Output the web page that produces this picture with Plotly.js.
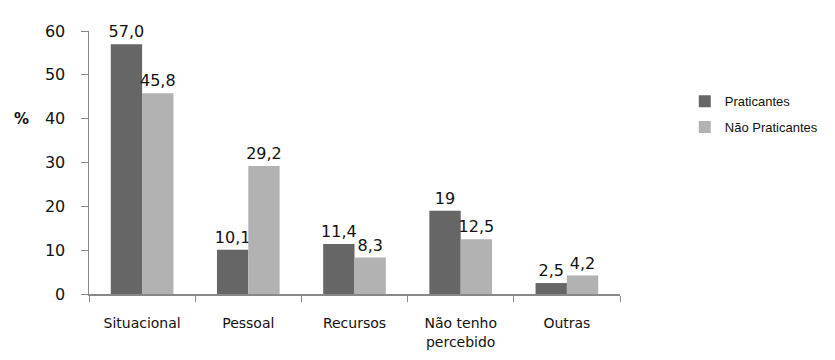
<!DOCTYPE html>
<html>
<head>
<meta charset="utf-8">
<script src="https://cdn.plot.ly/plotly-3.0.1.min.js"></script>
<style>html,body{margin:0;padding:0;background:#fff;}#chart{width:835px;height:360px;}</style>
</head>
<body>
<div id="chart"></div>
<script>
var categories = ["Situacional", "Pessoal", "Recursos", "Não tenho<br>percebido", "Outras"];
var praticantes = [57.0, 10.1, 11.4, 19, 2.5];
var naoPraticantes = [45.8, 29.2, 8.3, 12.5, 4.2];
var praticantesLabels = ["57,0", "10,1", "11,4", "19", "2,5"];
var naoPraticantesLabels = ["45,8", "29,2", "8,3", "12,5", "4,2"];
var yTicks = [0, 10, 20, 30, 40, 50, 60];

var font = "DejaVu Sans, Arial, sans-serif";
var legFont = "Liberation Sans, Arial, sans-serif";

var traces = [
  {
    type: "bar", name: "Praticantes", legendgroup: "a", x: categories, y: praticantes,
    text: praticantesLabels, textposition: "outside", cliponaxis: false, constraintext: "none",
    textfont: {family: font, size: 16, color: "#111"},
    marker: {color: "#666666"}
  },
  {
    type: "bar", name: "Não Praticantes", legendgroup: "b", x: categories, y: naoPraticantes,
    text: naoPraticantesLabels, textposition: "outside", cliponaxis: false, constraintext: "none",
    textfont: {family: font, size: 16, color: "#111"},
    marker: {color: "#b2b2b2"}
  }
];

var layout = {
  width: 835, height: 360,
  margin: {l: 89, r: 215, t: 31, b: 66, autoexpand: false},
  paper_bgcolor: "#fff", plot_bgcolor: "#fff",
  font: {family: font, size: 14, color: "#111"},
  barmode: "group", bargap: 0.41, bargroupgap: 0,
  showlegend: true,
  legend: {x: 1.122, xanchor: "left", y: 0.79, yanchor: "top",
           font: {family: legFont, size: 13, color: "#111"}, tracegroupgap: 6, itemwidth: 30},
  xaxis: {
    showline: true, linecolor: "#888", linewidth: 1.5,
    ticks: "outside", tickson: "boundaries", ticklen: 6, tickcolor: "#888",
    showgrid: false, zeroline: false, ticklabelstandoff: 16,
    tickfont: {family: font, size: 14, color: "#111"}
  },
  yaxis: {
    range: [0, 60], tickvals: yTicks,
    showline: true, linecolor: "#888", linewidth: 1.5,
    ticks: "outside", ticklen: 7, tickcolor: "#888",
    showgrid: false, zeroline: false, ticklabelstandoff: 12,
    tickfont: {family: font, size: 16, color: "#111"}
  },
  annotations: [
    {text: "<b>%</b>", xref: "paper", yref: "y", x: -0.128, y: 40, xanchor: "center",
     showarrow: false, font: {family: font, size: 15, color: "#111"}}
  ]
};

Plotly.newPlot("chart", traces, layout, {displayModeBar: false, staticPlot: true});
</script>
</body>
</html>
